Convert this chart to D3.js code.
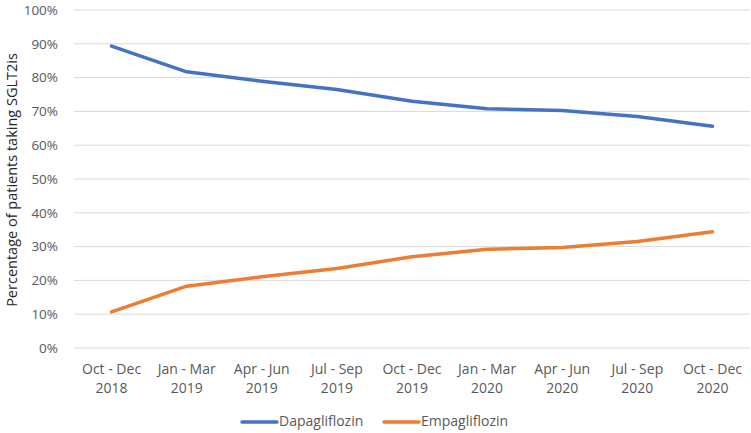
<!DOCTYPE html>
<html>
<head>
<meta charset="utf-8">
<script src="https://cdn.jsdelivr.net/npm/d3@7"></script>
<style>
  body { margin: 0; background: #fff; }
  text { font-family: "Open Sans", "Noto Sans", sans-serif; }
</style>
</head>
<body>
<div id="chart"></div>
<script>
// data
const quarters = ["Oct - Dec|2018", "Jan - Mar|2019", "Apr - Jun|2019", "Jul - Sep|2019",
    "Oct - Dec|2019", "Jan - Mar|2020", "Apr - Jun|2020", "Jul - Sep|2020", "Oct - Dec|2020"];
const dapagliflozin = [89.3, 81.7, 78.9, 76.5, 73.0, 70.8, 70.3, 68.5, 65.6];
const empagliflozin = [10.7, 18.3, 21.1, 23.5, 27.0, 29.2, 29.7, 31.5, 34.4];
const yTicks = [0, 10, 20, 30, 40, 50, 60, 70, 80, 90, 100];

const seriesList = [
    { name: "Dapagliflozin", values: dapagliflozin, color: "#4472C4" },
    { name: "Empagliflozin", values: empagliflozin, color: "#ED7D31" }
];

var W = 751, H = 433;
var margin = { top: 10, right: 1, bottom: 85, left: 74 },
    width = W - margin.left - margin.right,
    height = H - margin.top - margin.bottom;

var svg = d3.select("#chart")
    .append("svg")
    .attr("width", W)
    .attr("height", H);

var g = svg.append("g")
    .attr("transform", "translate(" + margin.left + "," + margin.top + ")");

var x = d3.scaleBand()
    .domain(quarters)
    .range([0, width]);

var y = d3.scaleLinear()
    .domain([0, 100])
    .range([height, 0]);

// gridlines
g.selectAll("line.grid")
    .data(yTicks)
    .enter()
    .append("line")
    .attr("class", "grid")
    .attr("x1", 0)
    .attr("x2", width)
    .attr("y1", d => y(d))
    .attr("y2", d => y(d))
    .attr("stroke", "#d9d9d9")
    .attr("stroke-width", 1);

// y axis labels
var yAxis = g.append("g")
    .call(d3.axisLeft(y).tickValues(yTicks).tickSize(0).tickPadding(16).tickFormat(d => d + "%"));
yAxis.select(".domain").remove();
yAxis.selectAll("text")
    .attr("fill", "#595959")
    .style("font-size", "13.5px");

// x axis labels (two lines)
var xAxis = g.append("g")
    .attr("transform", "translate(0," + height + ")")
    .call(d3.axisBottom(x).tickSize(0).tickFormat(""));
xAxis.select(".domain").remove();
xAxis.selectAll(".tick text").remove();
xAxis.selectAll(".tick")
    .append("text")
    .attr("fill", "#595959")
    .attr("text-anchor", "middle")
    .style("font-size", "14px")
    .selectAll("tspan")
    .data(d => d.split("|"))
    .enter()
    .append("tspan")
    .attr("x", 0)
    .attr("y", (d, i) => 26 + i * 19)
    .text(d => d);

// lines
var line = d3.line()
    .x((d, i) => x(quarters[i]) + x.bandwidth() / 2)
    .y(d => y(d));

g.selectAll("path.series")
    .data(seriesList)
    .enter()
    .append("path")
    .attr("class", "series")
    .attr("d", d => line(d.values))
    .attr("fill", "none")
    .attr("stroke", d => d.color)
    .attr("stroke-width", 3.5)
    .attr("stroke-linecap", "round")
    .attr("stroke-linejoin", "round");

// y axis title
svg.append("text")
    .attr("transform", "translate(13," + (margin.top + height / 2 + 1) + ") rotate(-90)")
    .attr("text-anchor", "middle")
    .attr("dominant-baseline", "middle")
    .attr("fill", "#262626")
    .style("font-size", "14.5px")
    .text("Percentage of patients taking SGLT2is");

// legend
var legendX = [242, 384];
var legend = svg.selectAll("g.legend")
    .data(seriesList)
    .enter()
    .append("g")
    .attr("class", "legend")
    .attr("transform", (d, i) => "translate(" + legendX[i] + ",422)");

legend.append("line")
    .attr("x1", 0).attr("x2", 35)
    .attr("y1", 0).attr("y2", 0)
    .attr("stroke", d => d.color)
    .attr("stroke-width", 3.5)
    .attr("stroke-linecap", "round");

legend.append("text")
    .attr("x", 37)
    .attr("y", 0)
    .attr("dominant-baseline", "middle")
    .attr("fill", "#595959")
    .style("font-size", "14px")
    .text(d => d.name);
</script>
</body>
</html>
